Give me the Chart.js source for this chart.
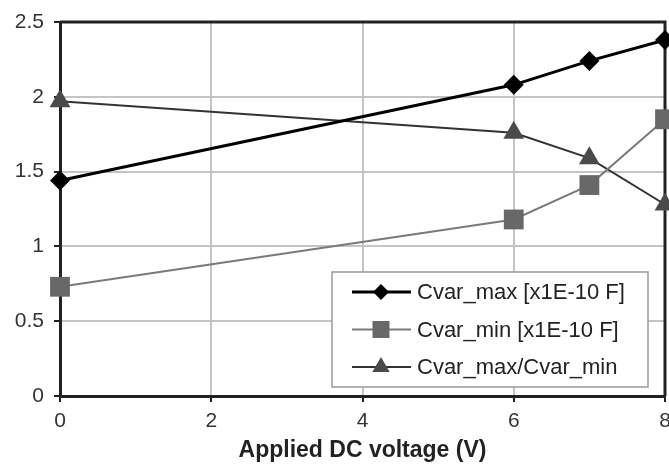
<!DOCTYPE html>
<html><head><meta charset="utf-8">
<script src="https://cdn.jsdelivr.net/npm/chart.js@4/dist/chart.umd.min.js"></script>
<style>html,body{margin:0;padding:0;background:#fff}#wrap{width:669px;height:465px;position:relative}</style>
</head><body><div id="wrap"><canvas id="c" width="669" height="465"></canvas></div>
<script>
const voltages = [0, 6, 7, 8];
const cvarMax = [1.44, 2.08, 2.24, 2.38];
const cvarMin = [0.73, 1.18, 1.41, 1.85];
const cvarRatio = [1.97, 1.76, 1.59, 1.28];
const seriesNames = ['Cvar_max [x1E-10 F]', 'Cvar_min [x1E-10 F]', 'Cvar_max/Cvar_min'];
const xTitle = 'Applied DC voltage (V)';
const xRange = [0, 8, 2];
const yRange = [0, 2.5, 0.5];

const FONT = "'Liberation Sans', Arial, sans-serif";
const pts = arr => voltages.map((v, i) => ({x: v, y: arr[i]}));

const styles = [
  {line: '#000', fill: '#000', width: 3, shape: 'rectRot', r: 10, lr: 8},
  {line: '#7a7a7a', fill: '#686868', width: 2, shape: 'rect', r: 14, lr: 12},
  {line: '#333', fill: '#4a4a4a', width: 2, shape: 'triangle', r: 12, lr: 10}
];
const series = [cvarMax, cvarMin, cvarRatio];

function drawMarker(ctx, shape, x, y, r) {
  ctx.beginPath();
  if (shape === 'rectRot') {
    ctx.moveTo(x, y - r); ctx.lineTo(x + r, y); ctx.lineTo(x, y + r); ctx.lineTo(x - r, y);
  } else if (shape === 'rect') {
    const s = Math.SQRT1_2 * r; ctx.rect(x - s, y - s, 2 * s, 2 * s);
  } else {
    const h = r * 0.866;
    ctx.moveTo(x, y - r); ctx.lineTo(x + h, y + r / 2); ctx.lineTo(x - h, y + r / 2);
  }
  ctx.closePath(); ctx.fill();
}

const framePlugin = {
  id: 'frame',
  beforeDatasetsDraw(chart) {
    const {ctx, chartArea: a} = chart;
    ctx.save();
    ctx.strokeStyle = '#222'; ctx.lineWidth = 3;
    ctx.beginPath();
    ctx.moveTo(a.left, a.top); ctx.lineTo(a.right, a.top); ctx.lineTo(a.right, a.bottom);
    ctx.stroke();
    ctx.restore();
  }
};

const legendPlugin = {
  id: 'boxLegend',
  afterDraw(chart) {
    const ctx = chart.ctx;
    const bx = 332, by = 272, bw = 316, bh = 115;
    ctx.save();
    ctx.fillStyle = '#fff'; ctx.fillRect(bx, by, bw, bh);
    ctx.strokeStyle = '#999'; ctx.lineWidth = 1.5; ctx.strokeRect(bx, by, bw, bh);
    const rows = [292, 329.5, 367];
    ctx.font = '22px ' + FONT;
    ctx.textBaseline = 'middle'; ctx.textAlign = 'left';
    styles.forEach((s, i) => {
      const y = rows[i];
      ctx.strokeStyle = s.line; ctx.lineWidth = s.width;
      ctx.beginPath(); ctx.moveTo(352, y); ctx.lineTo(411, y); ctx.stroke();
      ctx.fillStyle = s.fill;
      drawMarker(ctx, s.shape, 381, y, s.lr);
      ctx.fillStyle = '#222';
      ctx.fillText(seriesNames[i], 417, y + 1);
    });
    ctx.restore();
  }
};

new Chart(document.getElementById('c'), {
  type: 'scatter',
  data: {
    datasets: series.map((arr, i) => ({
      label: seriesNames[i],
      data: pts(arr),
      showLine: true,
      borderColor: styles[i].line,
      borderWidth: styles[i].width,
      backgroundColor: styles[i].fill,
      pointStyle: styles[i].shape,
      pointRadius: styles[i].r,
      pointBorderWidth: 0,
      pointBackgroundColor: styles[i].fill,
      pointBorderColor: styles[i].fill,
      tension: 0,
      clip: false
    }))
  },
  options: {
    responsive: false,
    animation: false,
    devicePixelRatio: 1,
    layout: {autoPadding: false, padding: {top: 22, right: 4, left: 0, bottom: 0}},
    plugins: {legend: {display: false}, tooltip: {enabled: false}},
    scales: {
      x: {
        type: 'linear', min: xRange[0], max: xRange[1],
        ticks: {stepSize: xRange[2], color: '#333', font: {family: FONT, size: 21}, padding: 7, maxRotation: 0},
        grid: {color: '#c4c4c4', lineWidth: 2, tickColor: '#222', tickLength: 6, tickWidth: 2},
        border: {color: '#222', width: 3},
        title: {display: true, text: xTitle, color: '#222', font: {family: FONT, size: 23, weight: 'bold'}, padding: {top: 0, bottom: 1}},
        afterFit(s) { s.height = 69; s.paddingLeft = 0; s.paddingRight = 0; }
      },
      y: {
        min: yRange[0], max: yRange[1],
        ticks: {stepSize: yRange[2], color: '#333', font: {family: FONT, size: 21}, padding: 10, callback: v => String(v)},
        grid: {color: '#c4c4c4', lineWidth: 2, tickColor: '#222', tickLength: 6, tickWidth: 2},
        border: {color: '#222', width: 3},
        afterFit(s) { s.width = 60; s.paddingTop = 0; s.paddingBottom = 0; }
      }
    }
  },
  plugins: [framePlugin, legendPlugin]
});
</script>
</body></html>
